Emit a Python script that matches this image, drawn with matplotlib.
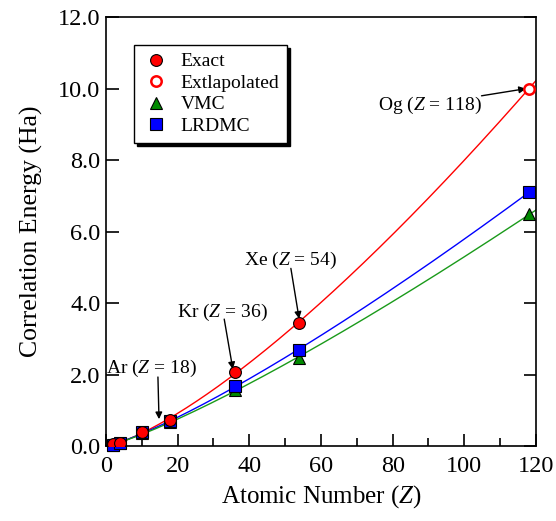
import numpy as np
import matplotlib
matplotlib.use("Agg")
import matplotlib.pyplot as plt

plt.rcParams["font.family"] = "Liberation Serif"
plt.rcParams["mathtext.fontset"] = "custom"
plt.rcParams["mathtext.rm"] = "Liberation Serif"
plt.rcParams["mathtext.it"] = "Liberation Serif:italic"

# data
z_exact = [2, 4, 10, 18, 36, 54]
e_exact = [0.042, 0.094, 0.39, 0.72, 2.08, 3.45]
z_extra = [118]
e_extra = [10.0]
z_qmc = [2, 4, 10, 18, 36, 54, 118]
e_vmc = [0.040, 0.090, 0.37, 0.66, 1.58, 2.45, 6.48]
e_lrdmc = [0.041, 0.092, 0.38, 0.69, 1.69, 2.68, 7.10]

# label, text centre, arrow tail, arrow tip
annotations = [
    ("Ar ($Z$ = 18)", (12.8, 2.18), (14.5, 1.93), (14.8, 0.75)),
    ("Kr ($Z$ = 36)", (32.4, 3.75), (33.0, 3.55), (35.4, 2.15)),
    ("Xe ($Z$ = 54)", (51.4, 5.20), (51.6, 4.97), (53.9, 3.56)),
    ("Og ($Z$ = 118)", (90.4, 9.54), (104.8, 9.80), (117.2, 10.0)),
]


def power_fit(z, e):
    # weighted log fit of e = a * z**b
    b, loga = np.polyfit(np.log(z), np.log(e), 1, w=np.asarray(e))
    return np.exp(loga), b


fig = plt.figure(figsize=(5.56, 5.21), dpi=100)
ax = fig.add_axes([0.1906, 0.144, 0.7734, 0.823])

zz = np.linspace(0, 120, 300)
a, b = power_fit(z_exact + z_extra, e_exact + e_extra)
ax.plot(zz, a * zz ** b, color="red", lw=1.0, zorder=2)
a, b = power_fit(z_qmc, e_lrdmc)
ax.plot(zz, a * zz ** b, color="blue", lw=1.0, zorder=2)
a, b = power_fit(z_qmc, e_vmc)
ax.plot(zz, a * zz ** b, color="#1a9a1a", lw=1.0, zorder=2)

ax.plot(z_qmc, e_vmc, ls="none", marker="^", ms=9, mfc="#008a00", mec="black",
        mew=0.8, label="VMC", zorder=3, clip_on=False)
ax.plot(z_qmc, e_lrdmc, ls="none", marker="s", ms=8, mfc="blue", mec="black",
        mew=0.8, label="LRDMC", zorder=4, clip_on=False)
ax.plot(z_exact, e_exact, ls="none", marker="o", ms=8.5, mfc="red", mec="black",
        mew=0.8, label="Exact", zorder=5)
ax.plot(z_extra, e_extra, ls="none", marker="o", ms=7.5, mfc="white", mec="red",
        mew=1.8, label="Extlapolated", zorder=5, clip_on=False)

for label, xy_text, tail, tip in annotations:
    ax.text(*xy_text, label, fontsize=14, ha="center", va="center", clip_on=False)
    ax.annotate("", xy=tip, xytext=tail, annotation_clip=False,
                arrowprops=dict(arrowstyle="-|>", color="black", lw=1.0,
                                mutation_scale=10, shrinkA=0, shrinkB=0))

ax.set_xlim(0, 120)
ax.set_ylim(0, 12)
ax.set_xticks(np.arange(0, 121, 20))
ax.set_xticks(np.arange(0, 121, 10), minor=True)
ax.set_yticks(np.arange(0, 12.1, 2))
ax.set_yticklabels([f"{v:.1f}" for v in np.arange(0, 12.1, 2)])
ax.tick_params(which="both", direction="in", labelsize=17.5, right=True, top=False,
               width=1.2)
ax.tick_params(which="major", length=9)
ax.tick_params(which="minor", length=6)
ax.tick_params(axis="x", pad=7)
ax.tick_params(axis="y", pad=4)
for s in ax.spines.values():
    s.set_linewidth(1.2)

ax.set_xlabel("Atomic Number ($Z$)", fontsize=18, labelpad=5)
ax.set_ylabel("Correlation Energy (Ha)", fontsize=18.5, labelpad=11)

handles, labels = ax.get_legend_handles_labels()
order = [2, 3, 0, 1]
leg = ax.legend([handles[i] for i in order], [labels[i] for i in order],
                loc="upper left", bbox_to_anchor=(0.065, 0.935), borderaxespad=0,
                fontsize=14, frameon=True, fancybox=False,
                shadow={"color": "black", "alpha": 1}, edgecolor="black",
                borderpad=0.4, handletextpad=0.5, labelspacing=0.2,
                handlelength=1.5)
leg.get_frame().set_linewidth(1.0)

fig.savefig("out.png", dpi=100)
